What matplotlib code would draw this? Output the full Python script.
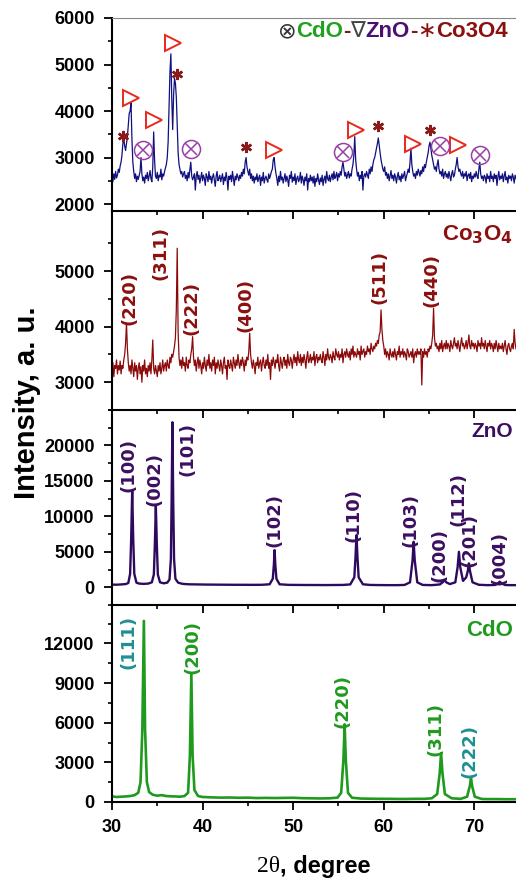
import numpy as np
import matplotlib
matplotlib.use('Agg')
from matplotlib import pyplot as plt
from matplotlib.ticker import MultipleLocator, FixedLocator

plt.rcParams['font.family'] = ['Liberation Sans', 'DejaVu Sans']
plt.rcParams['font.weight'] = 'bold'

# ---- composite (CdO-ZnO-Co3O4), 0.1 deg steps from 30.0 ----
comp_int = [
    2600, 2480, 2650, 2530, 2700, 2560, 2620, 2750, 2680, 2820,
    2900, 3050, 3300, 3400, 3250, 3150, 3300, 3450, 3700, 3950,
    4000, 4180, 3400, 2900, 2700, 2550, 2650, 2480, 2600, 2530,
    2620, 2700, 3000, 2650, 2500, 2580, 2450, 2620, 2550, 2680,
    2500, 2600, 2720, 2550, 2480, 2800, 3550, 2950, 2600, 2550,
    2680, 2500, 2620, 2580, 2750, 2520, 2650, 2600, 2700, 2780,
    2850, 3000, 3350, 4100, 4850, 5230, 4250, 3600, 4350, 4700,
    4600, 4300, 3700, 3100, 2850, 2750, 2650, 2700, 2580, 2650,
    2700, 2550, 2620, 2500, 2680, 2560, 2750, 2900, 2600, 2520,
    2580, 2650, 2300, 2600, 2700, 2530, 2620, 2450, 2560, 2680,
    2500, 2620, 2550, 2400, 2650, 2580, 2480, 2700, 2530, 2600,
    2450, 2580, 2650, 2520, 2380, 2600, 2700, 2500, 2550, 2620,
    2480, 2560, 2650, 2420, 2580, 2500, 2680, 2550, 2300, 2600,
    2530, 2620, 2480, 2700, 2550, 2400, 2600, 2520, 2650, 2580,
    2500, 2620, 2550, 2680, 2600, 2750, 2650, 2900, 3000, 2800,
    2700, 2620, 2750, 2550, 2650, 2500, 2600, 2450, 2580, 2520,
    2650, 2480, 2560, 2620, 2400, 2580, 2500, 2680, 2450, 2550,
    2600, 2520, 2470, 2650, 2550, 2620, 2700, 2750, 2950, 3000,
    2800, 2650, 2550, 2400, 2600, 2480, 2700, 2520, 2580, 2450,
    2550, 2650, 2480, 2600, 2520, 2380, 2620, 2550, 2700, 2470,
    2580, 2500, 2650, 2420, 2550, 2600, 2480, 2530, 2680, 2450,
    2600, 2520, 2400, 2580, 2500, 2650, 2300, 2550, 2480, 2620,
    2500, 2580, 2450, 2600, 2380, 2550, 2480, 2650, 2520, 2420,
    2560, 2480, 2620, 2400, 2530, 2600, 2450, 2700, 2550, 2500,
    2620, 2480, 2580, 2650, 2520, 2700, 2550, 2600, 2680, 2500,
    2650, 2580, 2700, 2620, 2800, 2900, 2750, 2600, 2680, 2550,
    2620, 2700, 2560, 2650, 2600, 2750, 2850, 3050, 3450, 2950,
    2750, 2600, 2680, 2500, 2620, 2550, 2700, 2300, 2600, 2650,
    2580, 2700, 2620, 2550, 2750, 2650, 2800, 2700, 2850, 2950,
    3000, 3100, 3200, 3300, 3420, 3250, 3100, 2950, 2850, 2750,
    2700, 2800, 2620, 2680, 2550, 2650, 2500, 2600, 2720, 2550,
    2620, 2500, 2650, 2580, 2450, 2600, 2680, 2520, 2600, 2480,
    2650, 2550, 2620, 2700, 2500, 2580, 2650, 2750, 2680, 2900,
    3200, 2850, 2700, 2600, 2650, 2550, 2700, 2620, 2750, 2680,
    2600, 2720, 2650, 2800, 2700, 2850, 2780, 2900, 3000, 3100,
    3250, 3330, 3200, 3050, 2950, 2850, 2750, 2800, 2700, 2850,
    2950, 2750, 2650, 2700, 2600, 2750, 2550, 2650, 2700, 2580,
    2650, 2550, 2700, 2600, 2500, 2650, 2720, 2580, 2620, 2750,
    2850, 3000, 2800, 2700, 2750, 2650, 2600, 2700, 2550, 2650,
    2600, 2700, 2500, 2620, 2650, 2550, 2680, 2480, 2600, 2550,
    2650, 2580, 2700, 2600, 2550, 2750, 2900, 2650, 2550, 2600,
    2500, 2620, 2580, 2450, 2650, 2550, 2600, 2480, 2700, 2550,
    2600, 2480, 2650, 2550, 2620, 2400, 2580, 2700, 2520, 2600,
    2550, 2650, 2480, 2600, 2700, 2520, 2580, 2450, 2620, 2550,
    2600, 2500, 2650, 2580, 2450, 2620, 2550,
]

# phase markers on the composite pattern
tri_tt = [32.1, 34.66, 36.7, 47.9, 56.95, 63.2, 68.15]          # ZnO
tri_int = [4280, 3800, 5465, 3160, 3590, 3300, 3270]
ast_tt = [31.17, 37.15, 44.8, 59.4, 65.1]                         # Co3O4
ast_int = [3460, 4790, 3230, 3670, 3600]
otimes_tt = [33.4, 38.7, 55.5, 66.2, 70.6]                        # CdO
otimes_int = [3170, 3180, 3110, 3250, 3050]

# ---- Co3O4, 0.1 deg steps from 30.0 ----
co_int = [
    3200, 3350, 3100, 3300, 3250, 3400, 3150, 3300, 3220, 3380,
    3150, 3300, 3250, 3400, 3500, 3700, 4060, 3600, 3350, 3200,
    3300, 3150, 3400, 3250, 3100, 3350, 3200, 3300, 3050, 3250,
    3350, 3150, 3280, 3000, 3300, 3200, 3400, 3150, 3250, 3100,
    3300, 3200, 3350, 3150, 3400, 3760, 3250, 3150, 3300, 3200,
    3100, 3300, 3200, 3350, 3150, 3250, 3400, 3200, 3300, 3350,
    3200, 3400, 3300, 3250, 3450, 3350, 3500, 3450, 3550, 3650,
    3800, 4300, 5410, 3900, 3450, 3300, 3400, 3250, 3450, 3300,
    3350, 3200, 3450, 3300, 3250, 3400, 3350, 3500, 3600, 3820,
    3450, 3300, 3400, 3200, 3350, 3450, 3250, 3400, 3300, 3150,
    3350, 3250, 3450, 3300, 3200, 3400, 3300, 3500, 3250, 3350,
    3200, 3400, 3300, 3450, 3150, 3350, 3250, 3400, 3300, 3200,
    3400, 3300, 3150, 3350, 3450, 3250, 3300, 3050, 3400, 3300,
    3250, 3400, 3300, 3200, 3450, 3350, 3250, 3400, 3300, 3500,
    3350, 3250, 3400, 3300, 3450, 3350, 3200, 3400, 3300, 3450,
    3400, 3550, 3880, 3500, 3350, 3250, 3400, 3300, 3150, 3350,
    3300, 3450, 3250, 3350, 3400, 3200, 3350, 3450, 3300, 3250,
    3400, 3300, 3500, 3250, 3350, 3050, 3400, 3300, 3450, 3350,
    3250, 3400, 3350, 3500, 3300, 3200, 3450, 3350, 3250, 3400,
    3450, 3300, 3400, 3250, 3500, 3350, 3300, 3450, 3400, 3250,
    3400, 3500, 3350, 3450, 3300, 3550, 3400, 3350, 3500, 3300,
    3450, 3350, 3500, 3400, 3250, 3450, 3550, 3350, 3400, 3500,
    3350, 3450, 3400, 3550, 3300, 3450, 3500, 3350, 3450, 3400,
    3500, 3400, 3350, 3550, 3450, 3300, 3500, 3400, 3600, 3450,
    3400, 3500, 3450, 3350, 3550, 3450, 3400, 3600, 3500, 3450,
    3550, 3400, 3500, 3450, 3600, 3350, 3500, 3550, 3450, 3600,
    3500, 3450, 3550, 3400, 3600, 3500, 3650, 3450, 3550, 3500,
    3450, 3600, 3500, 3550, 3400, 3650, 3500, 3550, 3600, 3450,
    3550, 3500, 3650, 3550, 3600, 3500, 3700, 3600, 3550, 3650,
    3600, 3700, 3650, 3750, 3700, 3850, 3900, 4300, 3950, 3750,
    3650, 3500, 3600, 3450, 3550, 3500, 3400, 3600, 3500, 3450,
    3550, 3450, 3600, 3500, 3400, 3550, 3500, 3650, 3450, 3550,
    3500, 3600, 3450, 3550, 3500, 3400, 3600, 3550, 3450, 3500,
    3550, 3450, 3600, 3350, 3500, 3550, 3450, 3600, 3500, 3550,
    3500, 3600, 2950, 3550, 3450, 3600, 3500, 3550, 3450, 3600,
    3550, 3650, 3600, 3700, 3850, 4330, 3800, 3650, 3700, 3600,
    3650, 3550, 3700, 3600, 3750, 3550, 3650, 3700, 3600, 3750,
    3600, 3700, 3650, 3550, 3750, 3650, 3600, 3700, 3800, 3650,
    3700, 3600, 3750, 3650, 3550, 3700, 3800, 3650, 3700, 3600,
    3650, 3750, 3600, 3700, 3850, 3650, 3600, 3750, 3650, 3700,
    3600, 3700, 3650, 3550, 3750, 3650, 3700, 3600, 3800, 3650,
    3700, 3600, 3750, 3650, 3550, 3700, 3650, 3750, 3600, 3700,
    3650, 3550, 3700, 3600, 3750, 3650, 3550, 3700, 3600, 3650,
    3600, 3700, 3550, 3650, 3750, 3600, 3500, 3650, 3700, 3600,
    3550, 3650, 3700, 3600, 3950, 3700, 3600,
]
co_hkl = ['(220)', '(311)', '(222)', '(400)', '(511)', '(440)']
co_lab_tt = [31.95, 35.4, 38.8, 44.7, 59.5, 65.3]
co_lab_int = [4510, 5330, 4330, 4390, 4900, 4840]

# ---- ZnO ----
zno_tt = [30.0, 30.5, 31.0, 31.5, 31.8, 32.0, 32.12, 32.23, 32.34, 32.46, 32.7,
          33.0, 33.5, 34.0, 34.4, 34.62, 34.73, 34.84, 34.95, 35.06, 35.3, 35.7,
          36.1, 36.35, 36.5, 36.58, 36.67, 36.76, 36.85, 37.0, 37.3, 37.8, 38.5,
          39.5, 40.5, 41.5, 42.5, 43.5, 44.5, 45.5, 46.5, 47.4, 47.75, 47.87,
          47.95, 48.03, 48.15, 48.5, 49.5, 50.5, 51.5, 52.5, 53.5, 54.5, 55.5,
          56.3, 56.75, 56.88, 56.99, 57.1, 57.23, 57.7, 58.5, 59.5, 60.5, 61.5,
          62.3, 62.9, 63.18, 63.3, 63.42, 63.7, 64.3, 65.3, 66.2, 66.5, 66.7,
          66.9, 67.3, 67.9, 68.15, 68.3, 68.45, 68.75, 69.1, 69.28, 69.4, 69.52,
          69.8, 70.5, 71.5, 72.3, 72.6, 72.8, 73.0, 73.4, 74.0, 74.6]
zno_int = [380, 360, 400, 450, 600, 1900, 7000, 13670, 7000, 1900, 650,
           520, 480, 520, 700, 1800, 6000, 11420, 6000, 1800, 700, 560,
           650, 1100, 4000, 12000, 23270, 12000, 4000, 1200, 650, 480, 420,
           400, 380, 370, 360, 350, 350, 340, 350, 420, 1200, 3200,
           5240, 3200, 1200, 420, 340, 330, 320, 320, 310, 320, 330,
           400, 1400, 4200, 7350, 4200, 1400, 420, 330, 310, 300, 300,
           330, 700, 3800, 6410, 3800, 700, 330, 300, 400, 700, 1030,
           700, 450, 700, 2800, 5000, 2800, 900, 1400, 2300, 3370, 2300,
           700, 350, 300, 330, 550, 790, 550, 320, 300, 300]
zno_hkl = ['(100)', '(002)', '(101)', '(102)', '(110)', '(103)', '(200)',
           '(112)', '(201)', '(004)']
zno_lab_tt = [31.87, 34.64, 38.3, 47.95, 56.7, 63.0, 66.2, 68.2, 69.5, 72.8]
zno_lab_int = [17180, 15250, 19570, 9460, 10160, 9460, 4600, 12500, 6600, 4070]

# ---- CdO ----
cdo_tt = [30.0, 30.5, 31.0, 31.5, 32.0, 32.5, 32.9, 33.15, 33.35, 33.52, 33.65,
          33.85, 34.1, 34.5, 35.0, 35.5, 36.0, 36.5, 37.0, 37.5, 38.0, 38.4,
          38.6, 38.76, 38.9, 39.1, 39.5, 40.0, 41.0, 42.0, 43.0, 44.0, 45.0,
          46.0, 47.0, 48.0, 49.0, 50.0, 51.0, 52.0, 53.0, 54.0, 54.9, 55.3,
          55.55, 55.68, 55.81, 56.05, 56.5, 57.5, 58.5, 59.5, 60.5, 61.5, 62.5,
          63.5, 64.5, 65.3, 65.9, 66.18, 66.33, 66.48, 66.75, 67.5, 68.5, 69.2,
          69.5, 69.63, 69.76, 70.05, 70.8, 71.5, 72.5, 73.5, 74.6]
cdo_int = [420, 380, 400, 420, 450, 520, 700, 1500, 5500, 13700, 5500,
           1500, 750, 550, 480, 520, 450, 430, 420, 400, 450, 700,
           3500, 9700, 3500, 900, 450, 380, 350, 330, 340, 320, 330,
           300, 310, 300, 310, 320, 290, 280, 270, 280, 330, 700,
           3200, 5870, 3200, 700, 320, 260, 250, 240, 240, 230, 230,
           240, 240, 280, 600, 2200, 3700, 2200, 600, 280, 240, 400,
           1200, 1790, 1200, 400, 230, 220, 220, 210, 210]
cdo_hkl = ['(111)', '(200)', '(220)', '(311)', '(222)']
cdo_lab_tt = [31.8, 38.9, 55.4, 65.7, 69.5]
cdo_lab_int = [12130, 11740, 7660, 5490, 3830]
cdo_lab_col = ['#1f8f8f', '#1f9a1f', '#1f9a1f', '#1f9a1f', '#1f8f8f']

comp_tt = 30.0 + 0.1 * np.arange(len(comp_int))
co_tt = 30.0 + 0.1 * np.arange(len(co_int))

W, H = 516, 883
fig = plt.figure(figsize=(W / 100, H / 100), dpi=100)

def panel(top_px, bot_px):
    ax = fig.add_axes([112 / W, 1 - bot_px / H, 404 / W, (bot_px - top_px) / H])
    ax.patch.set_visible(False)
    ax.set_xlim(30, 74.6)
    ax.xaxis.set_major_locator(MultipleLocator(10))
    ax.xaxis.set_minor_locator(MultipleLocator(5))
    ax.spines['right'].set_visible(False)
    ax.spines['top'].set_visible(False)
    ax.spines['left'].set_linewidth(1.5)
    ax.spines['bottom'].set_linewidth(1.5)
    ax.tick_params(which='major', direction='out', length=6, width=1.3,
                   labelsize=13, pad=6.5)
    ax.tick_params(which='minor', direction='out', length=3, width=1.2)
    ax.tick_params(axis='x', labelbottom=False)
    return ax

hkl_font = dict(rotation=90, ha='center', va='center', fontsize=13,
                fontweight='bold', family=['DejaVu Sans'])

# panel 1: composite
ax1 = panel(18, 211)
ax1.plot(comp_tt, comp_int, color='#10107e', lw=0.9)
ax1.set_ylim(1850, 6000)
ax1.yaxis.set_major_locator(FixedLocator([2000, 3000, 4000, 5000, 6000]))
ax1.yaxis.set_minor_locator(MultipleLocator(500))
ax1.spines['top'].set_visible(True)
ax1.spines['top'].set_color('#888888')
ax1.spines['top'].set_linewidth(0.8)
ax1.plot(tri_tt, tri_int, ls='none', marker='>', ms=12, mfc='none',
         mec='#e8291c', mew=1.4)
ax1.plot(ast_tt, ast_int, ls='none', marker=(6, 2, 0), ms=8, mec='#8b1a1a',
         mew=1.8)
ax1.plot(otimes_tt, otimes_int, ls='none', marker='o', ms=13, mfc='none',
         mec='#9a3fa8', mew=1.1)
ax1.plot(otimes_tt, otimes_int, ls='none', marker='x', ms=8, mec='#9a3fa8',
         mew=1.1)

parts = [('⊗', '#333333'), ('CdO', '#22a022'), ('-', '#7a1a1a'), ('∇', '#444444'),
         ('ZnO', '#4b0f73'), ('-', '#7a1a1a'), ('∗', '#8b1010'), ('Co3O4', '#8b1010')]
t = ax1.text(0.41, 0.93, parts[0][0], transform=ax1.transAxes, color=parts[0][1],
             fontsize=16, ha='left', va='center', fontweight='normal')
for s, c in parts[1:]:
    t = ax1.annotate(s, xy=(1, 0), xycoords=t, ha='left', va='bottom', color=c,
                     fontsize=16, fontweight='normal' if s in '∇∗' else 'bold')

# panel 2: Co3O4
ax2 = panel(211, 410)
ax2.plot(co_tt, co_int, color='#8b0a0a', lw=0.9)
ax2.set_ylim(2500, 6080)
ax2.yaxis.set_major_locator(FixedLocator([3000, 4000, 5000]))
ax2.yaxis.set_minor_locator(FixedLocator([2500, 3500, 4500, 5500]))
for s, x, y in zip(co_hkl, co_lab_tt, co_lab_int):
    ax2.text(x, y, s, color='#8b1010', **hkl_font)
ax2.text(0.993, 0.88, r'Co$_\mathbf{3}$O$_\mathbf{4}$', transform=ax2.transAxes,
         color='#8b1010', fontsize=16, ha='right', va='center')

# panel 3: ZnO
ax3 = panel(410, 605)
ax3.plot(zno_tt, zno_int, color='#2e0a5e', lw=1.7)
ax3.set_ylim(-2500, 25000)
ax3.yaxis.set_major_locator(FixedLocator([0, 5000, 10000, 15000, 20000]))
ax3.yaxis.set_minor_locator(MultipleLocator(2500))
for s, x, y in zip(zno_hkl, zno_lab_tt, zno_lab_int):
    ax3.text(x, y, s, color='#3c1060', **hkl_font)
ax3.text(0.993, 0.89, 'ZnO', transform=ax3.transAxes, color='#3c1060',
         fontsize=15, ha='right', va='center')

# panel 4: CdO
ax4 = panel(605, 802)
ax4.plot(cdo_tt, cdo_int, color='#1f9a1f', lw=1.9)
ax4.set_ylim(0, 14900)
ax4.yaxis.set_major_locator(FixedLocator([0, 3000, 6000, 9000, 12000]))
ax4.yaxis.set_minor_locator(MultipleLocator(1500))
for s, x, y, c in zip(cdo_hkl, cdo_lab_tt, cdo_lab_int, cdo_lab_col):
    ax4.text(x, y, s, color=c, **hkl_font)
ax4.text(0.993, 0.873, 'CdO', transform=ax4.transAxes, color='#1f9a1f',
         fontsize=16, ha='right', va='center')
ax4.tick_params(axis='x', labelbottom=True)

fig.text(27 / W, 1 - 403 / H, 'Intensity, a. u.', rotation=90, ha='center',
         va='center', fontsize=21, fontweight='bold')
fig.text(280 / W, 10.5 / H, '2θ', family=['Liberation Serif'], fontweight='normal',
         fontsize=17, ha='right', va='baseline')
fig.text(280 / W, 10.5 / H, ', degree', fontsize=17, fontweight='bold',
         ha='left', va='baseline')

fig.savefig('out.png', dpi=100, facecolor='white')
